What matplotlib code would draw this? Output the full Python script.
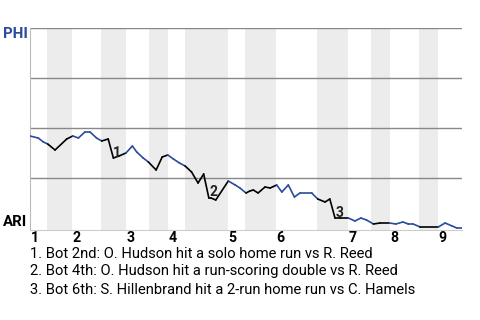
import matplotlib
matplotlib.use("Agg")
import matplotlib.pyplot as plt
from matplotlib.collections import LineCollection
import numpy as np

plt.rcParams['font.family'] = ['Roboto', 'DejaVu Sans']

# game progress (0-100) and PHI win probability
progress = [0, 1.9, 3.1, 4.1, 5.8, 8.5, 9.9, 11.2, 12.7, 13.9, 15.4, 16.6, 18.1,
            19.3, 20.6, 22.2, 23.7, 24.7, 26.2, 27.4, 29.2, 30.6, 31.9, 33.2,
            34.6, 35.9, 37.4, 38.9, 40.2, 41.4, 41.9, 43.0, 45.9, 47.5, 48.6,
            50.0, 50.9, 51.7, 52.8, 54.4, 55.6, 57.1, 58.3, 59.8, 61.2, 62.5,
            65.2, 66.6, 68.3, 69.4, 70.6, 71.8, 73.7, 75.2, 76.6, 77.9, 79.5,
            81.0, 83.2, 84.7, 86.3, 87.6, 88.7, 90.3, 94.5, 96.1, 97.7, 98.8, 100]
phi_wp = [0.46, 0.45, 0.43, 0.42, 0.39, 0.445, 0.46, 0.45, 0.48, 0.48, 0.45, 0.435,
          0.445, 0.35, 0.36, 0.375, 0.41, 0.38, 0.35, 0.33, 0.29, 0.355, 0.365,
          0.345, 0.325, 0.31, 0.28, 0.225, 0.27, 0.15, 0.15, 0.14, 0.235, 0.215,
          0.2, 0.175, 0.185, 0.19, 0.175, 0.205, 0.2, 0.215, 0.18, 0.215, 0.155,
          0.175, 0.175, 0.145, 0.13, 0.145, 0.05, 0.05, 0.05, 0.035, 0.05, 0.04,
          0.02, 0.025, 0.025, 0.02, 0.03, 0.02, 0.02, 0.005, 0.005, 0.025, 0.01,
          0.0, 0.0]

# half-inning start points (top 1, bot 1, top 2, ...) and game end
half_starts = [0, 3.9, 9.7, 16.4, 22.2, 27.5, 31.9, 35.9, 45.8, 49.8, 56.9,
               66.4, 73.6, 78.9, 83.3, 90.0, 94.4]
game_end = 100
innings = ['1', '2', '3', '4', '5', '6', '7', '8', '9']

notes_x = [20.1, 42.4, 71.6]
notes_y = [0.373, 0.18, 0.077]
notes = ["1. Bot 2nd: O. Hudson hit a solo home run vs R. Reed",
         "2. Bot 4th: O. Hudson hit a run-scoring double vs R. Reed",
         "3. Bot 6th: S. Hillenbrand hit a 2-run home run vs C. Hamels"]

blue = '#2a4c9c'

fig = plt.figure(figsize=(4.8, 3.2), dpi=100)
ax = fig.add_axes([30/480, 1-230/320, 432/480, 202/320])
ax.set_xlim(0, game_end)
ax.set_ylim(-0.01, 1)

ends = half_starts[1:] + [game_end]
for k, (a, b) in enumerate(zip(half_starts, ends)):
    if k % 2 == 1:
        ax.axvspan(a, b, color='#ececec', lw=0, zorder=0)

for g in [0.25, 0.5, 0.75, 1.0]:
    ax.axhline(g, color='#888888', lw=1, zorder=1)

# colour each segment by half-inning: bottom halves in black
pts = np.column_stack([progress, phi_wp])
segs = np.stack([pts[:-1], pts[1:]], axis=1)
mids = (pts[:-1, 0] + pts[1:, 0]) / 2
half_idx = np.searchsorted(half_starts, mids, side='right') - 1
cols = ['black' if h % 2 == 1 else blue for h in half_idx]
ax.add_collection(LineCollection(segs, colors=cols, linewidths=1.2, zorder=3,
                                 capstyle='round', joinstyle='round'))

for i, (nx, ny) in enumerate(zip(notes_x, notes_y)):
    ax.text(nx, ny, str(i + 1), fontsize=10, fontweight='bold', color='#222222',
            ha='center', va='center', zorder=4)

for sp in ['top', 'right']:
    ax.spines[sp].set_visible(False)
ax.spines['left'].set_color('#bbbbbb')
ax.spines['bottom'].set_color('#cccccc')
ax.set_xticks([])
ax.set_yticks([])

for lab, s in zip(innings, half_starts[::2]):
    ax.text(s + 0.2, -12/202, lab, fontsize=10.2, fontweight='bold', color='black',
            ha='left', va='baseline', transform=ax.get_xaxis_transform())

fig.text(3/480, 1-34/320, 'PHI', fontsize=10.8, fontweight='bold', color=blue,
         ha='left', va='center')
fig.text(3/480, 1-222/320, 'ARI', fontsize=10.8, fontweight='bold', color='black',
         ha='left', va='center')

for j, n in enumerate(notes):
    fig.text(30/480, 1-(253.5 + 18*j)/320, n, fontsize=10.6, color='black',
             ha='left', va='center')

fig.savefig('out.png', dpi=100)
